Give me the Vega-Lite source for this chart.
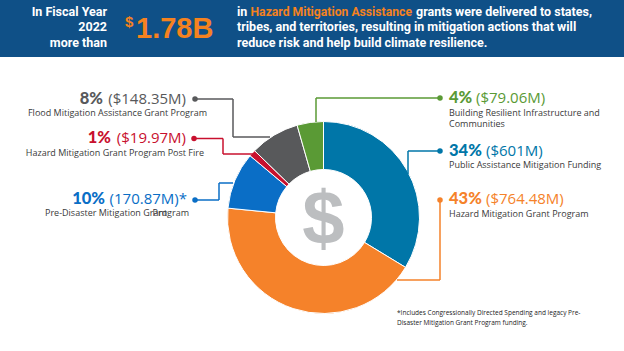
{
  "$schema": "https://vega.github.io/schema/vega-lite/v6.json",
  "width": 624,
  "height": 351,
  "autosize": {"type": "fit", "contains": "padding"},
  "padding": 0,
  "background": "white",
  "view": {"stroke": null},
  "config": {"text": {"font": "Open Sans"}},
  "datasets": {
    "grants": [
      {"program": "Public Assistance Mitigation Funding", "pct": "34%", "amount_m": 601, "amount": "($601M)", "order": 1},
      {"program": "Hazard Mitigation Grant Program", "pct": "43%", "amount_m": 764.48, "amount": "($764.48M)", "order": 2},
      {"program": "Pre-Disaster Mitigation Grant Program", "pct": "10%", "amount_m": 170.87, "amount": "(170.87M)*", "order": 3},
      {"program": "Hazard Mitigation Grant Program Post Fire", "pct": "1%", "amount_m": 19.97, "amount": "($19.97M)", "order": 4},
      {"program": "Flood Mitigation Assistance Grant Program", "pct": "8%", "amount_m": 148.35, "amount": "($148.35M)", "order": 5},
      {"program": "Building Resilient Infrastructure and Communities", "pct": "4%", "amount_m": 79.06, "amount": "($79.06M)", "order": 6}
    ],
    "one": [{}]
  },
  "data": {"name": "grants"},
  "layer": [
    {
      "data": {"name": "one"},
      "mark": {"type": "rect", "color": "#0F5087"},
      "encoding": {
        "x": {"datum": 0, "scale": {"domain": [0, 624], "nice": false, "zero": false}, "axis": null},
        "x2": {"datum": 624},
        "y": {"datum": 0, "scale": {"domain": [0, 351], "nice": false, "zero": false, "reverse": true}, "axis": null},
        "y2": {"datum": 57}
      }
    },
    {
      "data": {"name": "one"},
      "mark": {"type": "text", "text": ["In Fiscal Year", "2022", "more than"], "align": "right", "baseline": "alphabetic", "lineHeight": 15.8, "font": "Roboto", "fontWeight": "bold", "fontSize": 12.5, "color": "white"},
      "encoding": {"x": {"datum": 107}, "y": {"datum": 15.5}}
    },
    {
      "data": {"name": "one"},
      "mark": {"type": "text", "text": "$", "align": "left", "baseline": "alphabetic", "font": "Liberation Sans", "fontWeight": "bold", "fontSize": 15, "color": "#F58220"},
      "encoding": {"x": {"datum": 125}, "y": {"datum": 27}}
    },
    {
      "data": {"name": "one"},
      "mark": {"type": "text", "text": "1.78B", "align": "left", "baseline": "alphabetic", "font": "Liberation Sans", "fontWeight": "bold", "fontSize": 29, "color": "#F58220"},
      "encoding": {"x": {"datum": 136}, "y": {"datum": 37.5}}
    },
    {
      "data": {"name": "one"},
      "mark": {"type": "text", "text": "in", "align": "left", "baseline": "alphabetic", "font": "Roboto", "fontWeight": "bold", "fontSize": 12.5, "color": "white"},
      "encoding": {"x": {"datum": 237}, "y": {"datum": 15.7}}
    },
    {
      "data": {"name": "one"},
      "mark": {"type": "text", "text": "Hazard Mitigation Assistance", "align": "left", "baseline": "alphabetic", "font": "Roboto", "fontWeight": "bold", "fontSize": 12.2, "color": "#F58220"},
      "encoding": {"x": {"datum": 250.5}, "y": {"datum": 15.7}}
    },
    {
      "data": {"name": "one"},
      "mark": {"type": "text", "text": "grants were delivered to states,", "align": "left", "baseline": "alphabetic", "font": "Roboto", "fontWeight": "bold", "fontSize": 12.5, "color": "white"},
      "encoding": {"x": {"datum": 416}, "y": {"datum": 15.7}}
    },
    {
      "data": {"name": "one"},
      "mark": {"type": "text", "text": ["tribes, and territories, resulting in mitigation actions that will", "reduce risk and help build climate resilience."], "align": "left", "baseline": "alphabetic", "lineHeight": 15.8, "font": "Roboto", "fontWeight": "bold", "fontSize": 12.5, "color": "white"},
      "encoding": {"x": {"datum": 237}, "y": {"datum": 31.2}}
    },
    {
      "mark": {"type": "arc", "innerRadius": 48, "outerRadius": 96, "stroke": "white", "strokeWidth": 1},
      "encoding": {
        "theta": {"field": "amount_m", "type": "quantitative", "stack": true},
        "order": {"field": "order", "type": "quantitative"},
        "color": {
          "field": "program", "type": "nominal", "legend": null,
          "scale": {
            "domain": ["Public Assistance Mitigation Funding", "Hazard Mitigation Grant Program", "Pre-Disaster Mitigation Grant Program", "Hazard Mitigation Grant Program Post Fire", "Flood Mitigation Assistance Grant Program", "Building Resilient Infrastructure and Communities"],
            "range": ["#0076A8", "#F5822A", "#0A6EC6", "#C8102E", "#58595B", "#5A9A35"]
          }
        },
        "x": {"datum": 323.5},
        "y": {"datum": 217.5}
      }
    },
    {
      "data": {"name": "one"},
      "mark": {"type": "text", "text": "$", "align": "center", "baseline": "middle", "font": "Liberation Sans", "fontWeight": "bold", "fontSize": 76, "color": "#BCBEC0"},
      "encoding": {"x": {"datum": 323.5}, "y": {"datum": 221}}
    },
    {
      "transform": [{"filter": "datum.order == 5"}],
      "layer": [
        {"mark": {"type": "rule", "strokeWidth": 1.5}, "encoding": {"x": {"datum": 195}, "x2": {"datum": 233}, "y": {"datum": 99}, "y2": {"datum": 99}, "color": {"field": "program"}}},
        {"mark": {"type": "rule", "strokeWidth": 1.5}, "encoding": {"x": {"datum": 233}, "x2": {"datum": 233}, "y": {"datum": 99}, "y2": {"datum": 137}, "color": {"field": "program"}}},
        {"mark": {"type": "rule", "strokeWidth": 1.5}, "encoding": {"x": {"datum": 233}, "x2": {"datum": 270}, "y": {"datum": 137}, "y2": {"datum": 137}, "color": {"field": "program"}}},
        {"mark": {"type": "point", "filled": true, "size": 30, "opacity": 1}, "encoding": {"x": {"datum": 195}, "y": {"datum": 99}, "color": {"field": "program"}}},
        {"mark": {"type": "text", "align": "right", "baseline": "middle", "font": "Lato", "fontWeight": 900, "fontSize": 16.5}, "encoding": {"x": {"datum": 103}, "y": {"datum": 98.5}, "text": {"field": "pct"}, "color": {"field": "program"}}},
        {"mark": {"type": "text", "align": "right", "baseline": "middle", "fontSize": 15}, "encoding": {"x": {"datum": 186}, "y": {"datum": 98.5}, "text": {"field": "amount"}, "color": {"field": "program"}}},
        {"mark": {"type": "text", "align": "right", "baseline": "middle", "fontSize": 9, "color": "#3A3A3A"}, "encoding": {"x": {"datum": 207}, "y": {"datum": 113}, "text": {"field": "program"}}}
      ]
    },
    {
      "transform": [{"filter": "datum.order == 4"}],
      "layer": [
        {"mark": {"type": "rule", "strokeWidth": 1.5}, "encoding": {"x": {"datum": 194}, "x2": {"datum": 223}, "y": {"datum": 138.5}, "y2": {"datum": 138.5}, "color": {"field": "program"}}},
        {"mark": {"type": "rule", "strokeWidth": 1.5}, "encoding": {"x": {"datum": 223}, "x2": {"datum": 223}, "y": {"datum": 138.5}, "y2": {"datum": 154}, "color": {"field": "program"}}},
        {"mark": {"type": "rule", "strokeWidth": 1.5}, "encoding": {"x": {"datum": 223}, "x2": {"datum": 253}, "y": {"datum": 154}, "y2": {"datum": 154}, "color": {"field": "program"}}},
        {"mark": {"type": "point", "filled": true, "size": 30, "opacity": 1}, "encoding": {"x": {"datum": 194}, "y": {"datum": 138.5}, "color": {"field": "program"}}},
        {"mark": {"type": "text", "align": "right", "baseline": "middle", "font": "Lato", "fontWeight": 900, "fontSize": 16.5}, "encoding": {"x": {"datum": 111}, "y": {"datum": 138}, "text": {"field": "pct"}, "color": {"field": "program"}}},
        {"mark": {"type": "text", "align": "right", "baseline": "middle", "fontSize": 15}, "encoding": {"x": {"datum": 186}, "y": {"datum": 138}, "text": {"field": "amount"}, "color": {"field": "program"}}},
        {"mark": {"type": "text", "align": "right", "baseline": "middle", "fontSize": 9, "color": "#3A3A3A"}, "encoding": {"x": {"datum": 204}, "y": {"datum": 153}, "text": {"field": "program"}}}
      ]
    },
    {
      "transform": [{"filter": "datum.order == 3"}],
      "layer": [
        {"mark": {"type": "rule", "strokeWidth": 1.5}, "encoding": {"x": {"datum": 195}, "x2": {"datum": 219}, "y": {"datum": 200}, "y2": {"datum": 200}, "color": {"field": "program"}}},
        {"mark": {"type": "rule", "strokeWidth": 1.5}, "encoding": {"x": {"datum": 219}, "x2": {"datum": 219}, "y": {"datum": 200}, "y2": {"datum": 183}, "color": {"field": "program"}}},
        {"mark": {"type": "rule", "strokeWidth": 1.5}, "encoding": {"x": {"datum": 219}, "x2": {"datum": 233}, "y": {"datum": 183}, "y2": {"datum": 183}, "color": {"field": "program"}}},
        {"mark": {"type": "point", "filled": true, "size": 30, "opacity": 1}, "encoding": {"x": {"datum": 195}, "y": {"datum": 200}, "color": {"field": "program"}}},
        {"mark": {"type": "text", "align": "right", "baseline": "middle", "font": "Lato", "fontWeight": 900, "fontSize": 16.5}, "encoding": {"x": {"datum": 105}, "y": {"datum": 198.5}, "text": {"field": "pct"}, "color": {"field": "program"}}},
        {"mark": {"type": "text", "align": "right", "baseline": "middle", "fontSize": 15}, "encoding": {"x": {"datum": 187}, "y": {"datum": 198.5}, "text": {"field": "amount"}, "color": {"field": "program"}}},
        {"mark": {"type": "text", "text": "Pre-Disaster Mitigation Grant", "align": "left", "baseline": "middle", "fontSize": 9, "color": "#3A3A3A"}, "encoding": {"x": {"datum": 45}, "y": {"datum": 213}}},
        {"mark": {"type": "text", "text": "Program", "align": "right", "baseline": "middle", "fontSize": 9, "color": "#3A3A3A"}, "encoding": {"x": {"datum": 189}, "y": {"datum": 213}}}
      ]
    },
    {
      "transform": [{"filter": "datum.order == 6"}],
      "layer": [
        {"mark": {"type": "rule", "strokeWidth": 1.5}, "encoding": {"x": {"datum": 440}, "x2": {"datum": 316}, "y": {"datum": 98}, "y2": {"datum": 98}, "color": {"field": "program"}}},
        {"mark": {"type": "rule", "strokeWidth": 1.5}, "encoding": {"x": {"datum": 316}, "x2": {"datum": 316}, "y": {"datum": 98}, "y2": {"datum": 122}, "color": {"field": "program"}}},
        {"mark": {"type": "point", "filled": true, "size": 30, "opacity": 1}, "encoding": {"x": {"datum": 440}, "y": {"datum": 98}, "color": {"field": "program"}}},
        {"mark": {"type": "text", "align": "left", "baseline": "middle", "font": "Lato", "fontWeight": 900, "fontSize": 16.5}, "encoding": {"x": {"datum": 449}, "y": {"datum": 97.5}, "text": {"field": "pct"}, "color": {"field": "program"}}},
        {"mark": {"type": "text", "align": "left", "baseline": "middle", "fontSize": 15}, "encoding": {"x": {"datum": 476}, "y": {"datum": 97.5}, "text": {"field": "amount"}, "color": {"field": "program"}}},
        {"mark": {"type": "text", "text": "Building Resilient Infrastructure and", "align": "left", "baseline": "middle", "fontSize": 9, "color": "#3A3A3A"}, "encoding": {"x": {"datum": 449}, "y": {"datum": 112.5}}},
        {"mark": {"type": "text", "text": "Communities", "align": "left", "baseline": "middle", "fontSize": 9, "color": "#3A3A3A"}, "encoding": {"x": {"datum": 449}, "y": {"datum": 123.5}}}
      ]
    },
    {
      "transform": [{"filter": "datum.order == 1"}],
      "layer": [
        {"mark": {"type": "rule", "strokeWidth": 1.5}, "encoding": {"x": {"datum": 440}, "x2": {"datum": 408}, "y": {"datum": 151}, "y2": {"datum": 151}, "color": {"field": "program"}}},
        {"mark": {"type": "rule", "strokeWidth": 1.5}, "encoding": {"x": {"datum": 408}, "x2": {"datum": 408}, "y": {"datum": 151}, "y2": {"datum": 174}, "color": {"field": "program"}}},
        {"mark": {"type": "point", "filled": true, "size": 30, "opacity": 1}, "encoding": {"x": {"datum": 440}, "y": {"datum": 151}, "color": {"field": "program"}}},
        {"mark": {"type": "text", "align": "left", "baseline": "middle", "font": "Lato", "fontWeight": 900, "fontSize": 16.5}, "encoding": {"x": {"datum": 449}, "y": {"datum": 150.5}, "text": {"field": "pct"}, "color": {"field": "program"}}},
        {"mark": {"type": "text", "align": "left", "baseline": "middle", "fontSize": 15}, "encoding": {"x": {"datum": 486}, "y": {"datum": 150.5}, "text": {"field": "amount"}, "color": {"field": "program"}}},
        {"mark": {"type": "text", "align": "left", "baseline": "middle", "fontSize": 9, "color": "#3A3A3A"}, "encoding": {"x": {"datum": 449}, "y": {"datum": 165}, "text": {"field": "program"}}}
      ]
    },
    {
      "transform": [{"filter": "datum.order == 2"}],
      "layer": [
        {"mark": {"type": "rule", "strokeWidth": 1.5}, "encoding": {"x": {"datum": 440}, "x2": {"datum": 440}, "y": {"datum": 200}, "y2": {"datum": 280}, "color": {"field": "program"}}},
        {"mark": {"type": "rule", "strokeWidth": 1.5}, "encoding": {"x": {"datum": 440}, "x2": {"datum": 397}, "y": {"datum": 280}, "y2": {"datum": 280}, "color": {"field": "program"}}},
        {"mark": {"type": "point", "filled": true, "size": 30, "opacity": 1}, "encoding": {"x": {"datum": 440}, "y": {"datum": 200}, "color": {"field": "program"}}},
        {"mark": {"type": "text", "align": "left", "baseline": "middle", "font": "Lato", "fontWeight": 900, "fontSize": 16.5}, "encoding": {"x": {"datum": 449}, "y": {"datum": 199}, "text": {"field": "pct"}, "color": {"field": "program"}}},
        {"mark": {"type": "text", "align": "left", "baseline": "middle", "fontSize": 15}, "encoding": {"x": {"datum": 486}, "y": {"datum": 199}, "text": {"field": "amount"}, "color": {"field": "program"}}},
        {"mark": {"type": "text", "align": "left", "baseline": "middle", "fontSize": 9, "color": "#3A3A3A"}, "encoding": {"x": {"datum": 449}, "y": {"datum": 214}, "text": {"field": "program"}}}
      ]
    },
    {
      "data": {"name": "one"},
      "mark": {"type": "text", "text": ["*Includes Congressionally Directed Spending and  legacy Pre-", "Disaster Mitigation Grant Program funding."], "align": "left", "baseline": "alphabetic", "lineHeight": 10, "font": "Open Sans", "fontSize": 6.5, "color": "#222222"},
      "encoding": {"x": {"datum": 397}, "y": {"datum": 314.5}}
    }
  ]
}
